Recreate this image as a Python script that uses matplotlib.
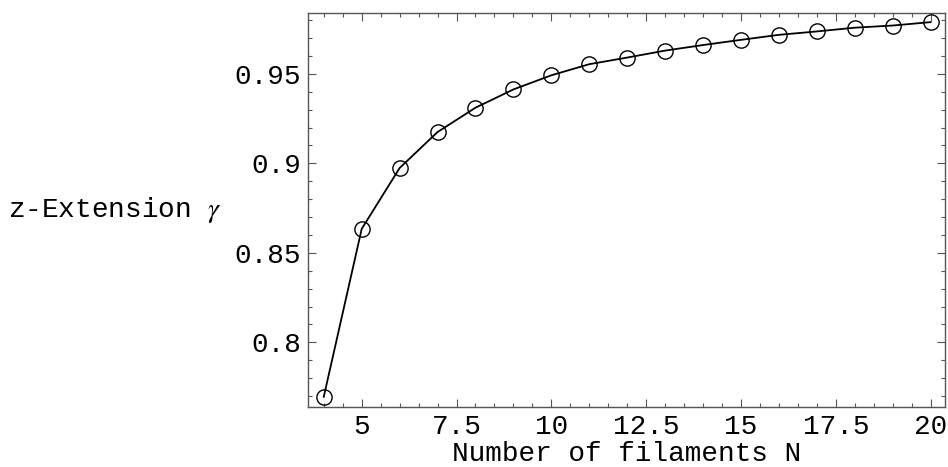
import numpy as np
import matplotlib
matplotlib.use("Agg")
from matplotlib import pyplot as plt
from matplotlib.ticker import MultipleLocator, FixedLocator, FixedFormatter

# dados
filamentos = [4, 5, 6, 7, 8, 9, 10, 11, 12, 13, 14, 15, 16, 17, 18, 19, 20]
extensao = [0.7696, 0.8634, 0.8974, 0.9175, 0.9311, 0.9413, 0.9492, 0.9554,
            0.9591, 0.9630, 0.9661, 0.9690, 0.9718, 0.9737, 0.9758, 0.9770, 0.9789]

xticks = [5, 7.5, 10, 12.5, 15, 17.5, 20]
xlabels = ['5', '7.5', '10', '12.5', '15', '17.5', '20']
yticks = [0.8, 0.85, 0.9, 0.95]
ylabels = ['0.8', '0.85', '0.9', '0.95']

plt.rcParams['font.family'] = ['Liberation Mono', 'DejaVu Sans Mono']
plt.rcParams['mathtext.fontset'] = 'stix'

fig = plt.figure(figsize=(9.48, 4.67), dpi=100)
ax = fig.add_axes([308/948, 1-407/467, (945-308)/948, (407-13)/467])

ax.plot(filamentos, extensao, color='black', lw=1.3, zorder=2)
ax.plot(filamentos, extensao, 'o', mfc='none', mec='black', mew=1.0, ms=11, zorder=3)

ax.set_xlim(3.584, 20.38)
ax.set_ylim(0.7639, 0.9840)

ax.xaxis.set_major_locator(FixedLocator(xticks))
ax.xaxis.set_major_formatter(FixedFormatter(xlabels))
ax.yaxis.set_major_locator(FixedLocator(yticks))
ax.yaxis.set_major_formatter(FixedFormatter(ylabels))
ax.xaxis.set_minor_locator(MultipleLocator(0.5))
ax.yaxis.set_minor_locator(MultipleLocator(0.01))

cor_borda = '#555555'
for lado in ax.spines.values():
    lado.set_color(cor_borda)
    lado.set_linewidth(1.0)

ax.tick_params(which='both', direction='in', top=True, right=True, color=cor_borda, width=0.8)
ax.tick_params(which='major', length=6, labelsize=20)
ax.tick_params(axis='x', which='major', pad=5)
ax.tick_params(axis='y', which='major', pad=5)
ax.tick_params(which='minor', length=3)

fig.text(8/948, 1-210/467, r'z-Extension $\gamma$', fontsize=20, ha='left', va='center')
fig.text(627/948, 1-461/467, 'Number of filaments N', fontsize=20, ha='center', va='baseline')

plt.savefig('out.png', dpi=100)
